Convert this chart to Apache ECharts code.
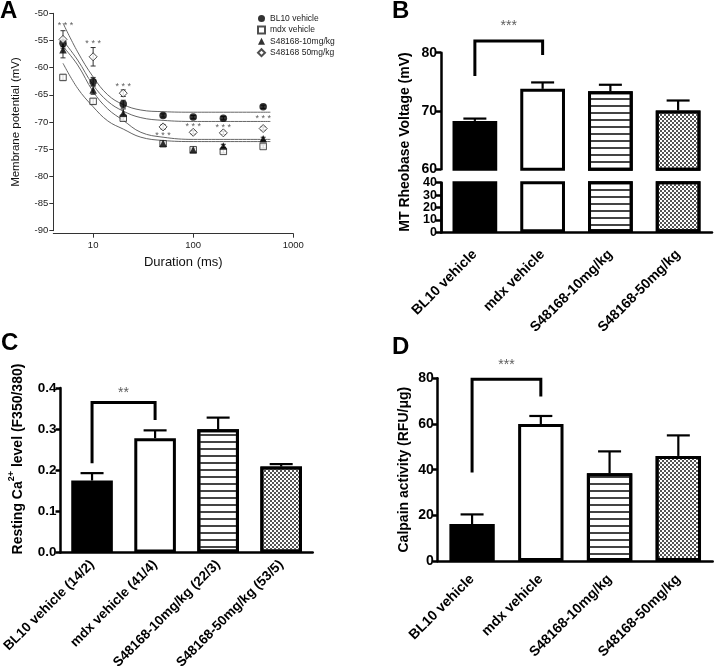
<!DOCTYPE html>
<html><head><meta charset="utf-8">
<script src="https://cdn.jsdelivr.net/npm/echarts@6/dist/echarts.min.js"></script>
<style>html,body{margin:0;padding:0;background:#fff}#c{width:714px;height:672px}</style>
</head><body><div id="c"></div>
<script>
const FONT = '"Liberation Sans", Arial, Helvetica, sans-serif';

// ---------- Panel A data ----------
const durations = [5, 10, 20, 50, 100, 200, 500];
const groupNames = ['BL10 vehicle', 'mdx vehicle', 'S48168-10mg/kg', 'S48168 50mg/kg'];
const bl10Vm = [-55.5, -62.6, -66.7, -68.8, -69.1, -69.3, -67.2];
const bl10VmErr = [0.6, 0.8, 0.7, 0.3, 0.3, 0.3, 0.3];
const mdxVm = [-61.8, -66.2, -69.3, -74.0, -75.1, -75.4, -74.5];
const mdxVmErr = [0.5, 0.5, 0.4, 0.3, 0.3, 0.3, 0.3];
const s10Vm = [-56.7, -64.1, -68.4, -73.9, -75.1, -74.4, -73.1];
const s10VmErr = [1.5, 0.8, 0.8, 0.3, 0.3, 0.3, 0.3];
const s50Vm = [-54.8, -58.0, -64.7, -70.9, -71.9, -72.0, -71.2];
const s50VmErr = [1.6, 1.7, 0.6, 0.4, 0.3, 0.3, 0.3];
const fitDurations = [5, 7, 10, 14, 20, 30, 50, 100, 200, 590];
const fitBL10 = [-51.8, -57.1, -61.7, -65.0, -66.8, -67.8, -68.1, -68.2, -68.2, -68.2];
const fitS50 = [-55.0, -58.6, -63.2, -66.2, -68.0, -69.2, -69.7, -69.9, -69.9, -69.9];
const fitS10 = [-56.1, -59.5, -64.4, -67.6, -69.7, -71.9, -72.8, -73.2, -73.2, -73.2];
const fitMdx = [-59.2, -63.8, -67.2, -69.8, -71.3, -72.8, -73.4, -73.6, -73.6, -73.6];
const starDurations = [5.3, 10, 20, 50, 100, 200, 500];
const starVm = [-52.3, -55.6, -63.4, -72.5, -70.8, -71.1, -69.3];

// ---------- Bar panels data ----------
const groups = ['BL10 vehicle', 'mdx vehicle', 'S48168-10mg/kg', 'S48168-50mg/kg'];
const groupsCa = ['BL10 vehicle (14/2)', 'mdx vehicle (41/4)', 'S48168-10mg/kg (22/3)', 'S48168-50mg/kg (53/5)'];
const rheobase = [68.3, 73.8, 73.4, 70.1];
const rheobaseErr = [0.4, 1.1, 1.1, 1.7];
const rheobaseLowTicksEven = [0, 20, 40];
const rheobaseLowTicksOdd = [10, 30];
const caLevel = [0.175, 0.278, 0.300, 0.209];
const caLevelErr = [0.018, 0.019, 0.028, 0.006];
const calpain = [16.2, 60.0, 38.4, 46.0];
const calpainErr = [4.2, 3.5, 9.6, 9.0];
const bracketB = [[0, 76.0], [0, 82.0], [1, 82.0], [1, 79.6]];
const bracketC = [[0, 0.217], [0, 0.365], [1, 0.365], [1, 0.322]];
const bracketD = [[0, 38.7], [0, 79.6], [1, 79.6], [1, 72.0]];
const starsB = [[0.5, 84.5], '***'];
const starsC = [[0.5, 0.387], '**'];
const starsD = [[0.5, 85.6], '***'];

// ---------- styles ----------
const stripeDecal = {symbol: 'rect', symbolSize: 1, dashArrayX: [[10, 0]], dashArrayY: [1.3, 4.5], color: '#444', rotation: 0};
const checkDecal = {symbol: 'rect', symbolSize: 1, dashArrayX: [[2, 2], [0, 2, 2, 0]], dashArrayY: [2, 0], color: '#555', rotation: 0};
const barStyles = [
  {color: '#000', borderColor: '#000', borderWidth: 3},
  {color: '#fff', borderColor: '#000', borderWidth: 3},
  {color: '#fff', borderColor: '#000', borderWidth: 3, decal: stripeDecal},
  {color: '#fff', borderColor: '#000', borderWidth: 3, decal: checkDecal}
];

function errSeries(xi, yi, xs, ys, es, opt) {
  return {
    type: 'custom', xAxisIndex: xi, yAxisIndex: yi, clip: false, z: opt.z || 4,
    encode: {x: 0, y: 1},
    data: ys.map((v, i) => [xs[i], v, es[i]]),
    renderItem: function (params, api) {
      const x = api.value(0), y = api.value(1), e = api.value(2);
      const lo = api.coord([x, opt.both ? y - e : y]);
      const hi = api.coord([x, y + e]);
      const hw = opt.cap / 2;
      const style = {stroke: opt.color, lineWidth: opt.width};
      const ch = [
        {type: 'line', shape: {x1: hi[0], y1: lo[1], x2: hi[0], y2: hi[1]}, style: style},
        {type: 'line', shape: {x1: hi[0] - hw, y1: hi[1], x2: hi[0] + hw, y2: hi[1]}, style: style}
      ];
      if (opt.both) ch.push({type: 'line', shape: {x1: lo[0] - hw, y1: lo[1], x2: lo[0] + hw, y2: lo[1]}, style: style});
      return {type: 'group', children: ch};
    }
  };
}

function barSeries(xi, yi, vals) {
  return {
    type: 'bar', xAxisIndex: xi, yAxisIndex: yi, barWidth: '66%', clip: true,
    data: vals.map((v, i) => ({value: v, itemStyle: barStyles[i]})), z: 2
  };
}
function bracketSeries(xi, yi, pts) {
  return {type: 'line', xAxisIndex: xi, yAxisIndex: yi, data: pts, symbol: 'none', clip: false,
    lineStyle: {color: '#000', width: 3, join: 'miter'}, z: 5};
}
function starSeries(xi, yi, s, size, color) {
  return {type: 'scatter', xAxisIndex: xi, yAxisIndex: yi, clip: false, symbolSize: 1,
    itemStyle: {color: 'rgba(0,0,0,0)'}, data: [s[0]],
    label: {show: true, position: 'inside', formatter: s[1], fontSize: size, color: color, fontFamily: FONT}, z: 6};
}

const boldAxisLine = {onZero: false, lineStyle: {color: '#000', width: 2.5}};
const boldTick = {length: 5, lineStyle: {color: '#000', width: 2.5}};
function catAxis(grid, cats, show, fs, margin) {
  return {type: 'category', gridIndex: grid, data: cats, show: show,
    axisLine: boldAxisLine, axisTick: Object.assign({alignWithLabel: true}, boldTick, {length: 6}),
    axisLabel: {rotate: 45, fontSize: fs, fontWeight: 'bold', color: '#000', fontFamily: FONT, margin: margin, interval: 0}};
}
function hiddenValX(grid) {
  return {type: 'value', gridIndex: grid, min: -0.5, max: 3.5, show: false, axisLine: {onZero: false}};
}
function barY(grid, min, max, interval, fs, fmt, custom) {
  const ax = {type: 'value', gridIndex: grid, min: min, max: max, interval: interval, position: 'left', offset: 0,
    axisLine: Object.assign({show: true}, boldAxisLine), axisTick: Object.assign({show: true}, boldTick),
    splitLine: {show: false},
    axisLabel: {fontSize: fs, fontWeight: 'bold', color: '#000', fontFamily: FONT, margin: 4, formatter: fmt,
      showMinLabel: true, showMaxLabel: true, hideOverlap: false}};
  if (custom) {
    ax.axisLabel.customValues = custom;
    ax.axisTick.customValues = custom;
  }
  return ax;
}

const aAxisLine = {onZero: false, lineStyle: {color: '#333', width: 1}};
const aTick = {length: 4, lineStyle: {color: '#333', width: 1}};

const option = {
  animation: false,
  backgroundColor: '#fff',
  textStyle: {fontFamily: FONT},
  grid: [
    {left: 53.3, top: 13.3, width: 240, height: 217.4},
    {left: 441, top: 52.7, width: 271, height: 116.6},
    {left: 441, top: 182.7, width: 271, height: 49.6},
    {left: 52.7, top: 388, width: 260, height: 173},
    {left: 437.7, top: 378.3, width: 275, height: 182.7}
  ],
  legend: {
    orient: 'vertical', left: 257, top: 14, itemWidth: 7, itemHeight: 7, itemGap: 2.4, padding: 0,
    data: groupNames, textStyle: {fontSize: 8.5, color: '#222', fontFamily: FONT}
  },
  xAxis: [
    {type: 'log', gridIndex: 0, min: 4, max: 1000, offset: 3,
      axisLine: aAxisLine, axisTick: aTick, splitLine: {show: false}, minorTick: {show: false},
      axisLabel: {showMinLabel: false, fontSize: 9.5, color: '#222', margin: 7, formatter: v => String(Math.round(v))},
      name: 'Duration (ms)', nameLocation: 'middle', nameGap: 22,
      nameTextStyle: {fontSize: 13, color: '#111', padding: [0, 0, 0, 20]}},
    catAxis(1, groups, false, 14, 7),
    catAxis(2, groups, true, 14, 20),
    catAxis(3, groupsCa, true, 13.5, 10),
    catAxis(4, groups, true, 14, 16),
    hiddenValX(1),
    hiddenValX(3),
    hiddenValX(4)
  ],
  yAxis: [
    {type: 'value', gridIndex: 0, min: -90, max: -50, interval: 5,
      axisLine: Object.assign({show: true}, aAxisLine), axisTick: Object.assign({show: true}, aTick), splitLine: {show: false},
      axisLabel: {fontSize: 9.5, color: '#222', margin: 5},
      name: 'Membrane potential (mV)', nameLocation: 'middle', nameGap: 31,
      nameTextStyle: {fontSize: 11.5, color: '#111'}},
    barY(1, 60, 80, 10, 14),
    barY(2, 0, 40, 10, 12.5, undefined, rheobaseLowTicksEven),
    barY(3, 0, 0.4, 0.1, 13.5, v => v.toFixed(1)),
    Object.assign(barY(4, 0, 80, 20, 14), {name: 'Calpain activity (RFU/\u03bcg)', nameLocation: 'middle', nameGap: 27,
      nameTextStyle: {fontSize: 14, fontWeight: 'bold', color: '#000', fontFamily: FONT}}),
    barY(2, 0, 40, 10, 12.5, undefined, rheobaseLowTicksOdd)
  ],
  graphic: [
    {type: 'text', x: 0, y: -1, style: {text: 'A', font: 'bold 24px ' + FONT, fill: '#000'}},
    {type: 'text', x: 392, y: -1, style: {text: 'B', font: 'bold 24px ' + FONT, fill: '#000'}},
    {type: 'text', x: 1, y: 331, style: {text: 'C', font: 'bold 24px ' + FONT, fill: '#000'}},
    {type: 'text', x: 392, y: 335, style: {text: 'D', font: 'bold 24px ' + FONT, fill: '#000'}},
    {type: 'text', x: 405, y: 142, rotation: Math.PI / 2,
      style: {text: 'MT Rheobase Voltage (mV)', font: 'bold 14px ' + FONT, fill: '#000', align: 'center', verticalAlign: 'middle'}},
    {type: 'text', x: 16, y: 459, rotation: Math.PI / 2,
      style: {text: '{a|Resting Ca}{s|2+}{a| level (F350/380)}', fill: '#000', align: 'center', verticalAlign: 'middle',
        rich: {a: {fontSize: 14, fontWeight: 'bold', fontFamily: FONT, lineHeight: 18, verticalAlign: 'bottom', fill: '#000'},
               s: {fontSize: 9, fontWeight: 'bold', fontFamily: FONT, lineHeight: 10, verticalAlign: 'top', fill: '#000'}}}}
  ],
  series: [
    // Panel A fits
    {type: 'line', xAxisIndex: 0, yAxisIndex: 0, data: fitDurations.map((d, i) => [d, fitBL10[i]]), smooth: 0.4, symbol: 'none', lineStyle: {color: '#666', width: 1}, z: 1},
    {type: 'line', xAxisIndex: 0, yAxisIndex: 0, data: fitDurations.map((d, i) => [d, fitS50[i]]), smooth: 0.4, symbol: 'none', lineStyle: {color: '#666', width: 1}, z: 1},
    {type: 'line', xAxisIndex: 0, yAxisIndex: 0, data: fitDurations.map((d, i) => [d, fitS10[i]]), smooth: 0.4, symbol: 'none', lineStyle: {color: '#666', width: 1}, z: 1},
    {type: 'line', xAxisIndex: 0, yAxisIndex: 0, data: fitDurations.map((d, i) => [d, fitMdx[i]]), smooth: 0.4, symbol: 'none', lineStyle: {color: '#666', width: 1}, z: 1},
    // Panel A error bars
    errSeries(0, 0, durations, bl10Vm, bl10VmErr, {both: true, cap: 5, width: 1, color: '#333'}),
    errSeries(0, 0, durations, mdxVm, mdxVmErr, {both: true, cap: 5, width: 1, color: '#333'}),
    errSeries(0, 0, durations, s10Vm, s10VmErr, {both: true, cap: 5, width: 1, color: '#333'}),
    errSeries(0, 0, durations, s50Vm, s50VmErr, {both: true, cap: 5, width: 1, color: '#333'}),
    // Panel A points
    {name: groupNames[0], type: 'scatter', xAxisIndex: 0, yAxisIndex: 0, symbol: 'circle', symbolSize: 7.5,
      itemStyle: {color: '#000'}, data: durations.map((d, i) => [d, bl10Vm[i]]), z: 5},
    {name: groupNames[1], type: 'scatter', xAxisIndex: 0, yAxisIndex: 0, symbol: 'rect', symbolSize: 6.5,
      itemStyle: {color: '#fff', borderColor: '#222', borderWidth: 1}, data: durations.map((d, i) => [d, mdxVm[i]]), z: 5},
    {name: groupNames[2], type: 'scatter', xAxisIndex: 0, yAxisIndex: 0, symbol: 'triangle', symbolSize: 7.5,
      itemStyle: {color: '#000'}, data: durations.map((d, i) => [d, s10Vm[i]]), z: 6},
    {name: groupNames[3], type: 'scatter', xAxisIndex: 0, yAxisIndex: 0, symbol: 'diamond', symbolSize: 8,
      itemStyle: {color: '#fff', borderColor: '#222', borderWidth: 1}, data: durations.map((d, i) => [d, s50Vm[i]]), z: 6},
    {type: 'scatter', xAxisIndex: 0, yAxisIndex: 0, symbolSize: 1, itemStyle: {color: 'rgba(0,0,0,0)'}, clip: false,
      data: starDurations.map((d, i) => [d, starVm[i]]),
      label: {show: true, position: 'inside', formatter: '* * *', fontSize: 9, color: '#333', fontFamily: FONT}, z: 7},
    // Panel B
    barSeries(1, 1, rheobase),
    barSeries(2, 2, rheobase),
    errSeries(1, 1, [0, 1, 2, 3], rheobase, rheobaseErr, {cap: 23, width: 2.2, color: '#000'}),
    bracketSeries(5, 1, bracketB),
    starSeries(5, 1, starsB, 14, '#333'),
    // Panel C
    barSeries(3, 3, caLevel),
    errSeries(3, 3, [0, 1, 2, 3], caLevel, caLevelErr, {cap: 23, width: 2.2, color: '#000'}),
    bracketSeries(6, 3, bracketC),
    starSeries(6, 3, starsC, 14, '#333'),
    // Panel D
    barSeries(4, 4, calpain),
    errSeries(4, 4, [0, 1, 2, 3], calpain, calpainErr, {cap: 23, width: 2.2, color: '#000'}),
    bracketSeries(7, 4, bracketD),
    starSeries(7, 4, starsD, 14, '#333')
  ]
};

const chart = echarts.init(document.getElementById('c'), null, {renderer: 'canvas'});
chart.setOption(option);
</script>
</body></html>
